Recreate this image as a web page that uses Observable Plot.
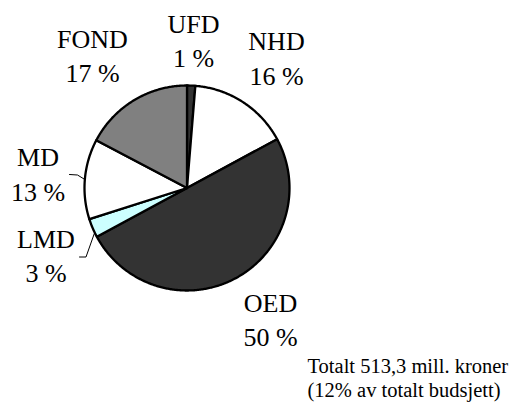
<!DOCTYPE html>
<html>
<head>
<meta charset="utf-8">
<script src="https://cdn.jsdelivr.net/npm/d3@7"></script>
<script src="https://cdn.jsdelivr.net/npm/@observablehq/plot@0.6"></script>
<style>
  html, body { margin: 0; padding: 0; background: #fff; }
  #chart { width: 520px; height: 403px; }
</style>
</head>
<body>
<div id="chart"></div>
<script>
// ---- data ----
const categories = ["UFD", "NHD", "OED", "LMD", "MD", "FOND"];
const values = [1.3, 15.8, 50.0, 3.0, 12.6, 17.3];
const colors = ["#333333", "#ffffff", "#333333", "#ccffff", "#ffffff", "#808080"];
const captionLines = ["Totalt 513,3 mill. kroner", "(12% av totalt budsjett)"];

// ---- layout ----
const W = 520, H = 403;
const cx = 186.5, cy = 187.5, R = 102.5;
const labelLayout = {
  UFD:  {x: 193,  y: 66.7},
  NHD:  {x: 276,  y: 84},
  OED:  {x: 270,  y: 345.7},
  LMD:  {x: 45.5, y: 281.7},
  MD:   {x: 37.5, y: 200},
  FOND: {x: 92,   y: 81.7}
};
const leaderLayout = {
  MD:  {pts: [[69, 174], [77, 174.5]], at: 0.5},
  LMD: {pts: [[79, 256.5], [85.5, 256.5]], at: 0.2}
};

const pie = d3.pie().sort(null).value(d => d.value)(
  categories.map((name, i) => ({name, value: values[i], color: colors[i]}))
);

function polar(a, r) { return {x: cx + r * Math.sin(a), y: cy - r * Math.cos(a)}; }

const sliceMarks = pie.map(s => {
  const pts = [{x: cx, y: cy}];
  const n = Math.max(4, Math.ceil((s.endAngle - s.startAngle) / 0.01));
  for (let k = 0; k <= n; k++) pts.push(polar(s.startAngle + (s.endAngle - s.startAngle) * k / n, R));
  pts.push({x: cx, y: cy});
  return Plot.line(pts, {x: "x", y: "y", fill: s.data.color, stroke: "black", strokeWidth: 2.3, strokeLinejoin: "round", curve: "linear"});
});

const leaderMarks = pie.filter(s => leaderLayout[s.data.name]).map(s => {
  const L = leaderLayout[s.data.name];
  const a = s.startAngle + (s.endAngle - s.startAngle) * L.at;
  const pts = L.pts.map(([x, y]) => ({x, y}));
  pts.push(polar(a, R + 1));
  return Plot.line(pts, {x: "x", y: "y", stroke: "black", strokeWidth: 1, curve: "linear"});
});

const labels = pie.map(s => ({
  text: s.data.name + "\n" + Math.round(s.data.value) + " %",
  x: labelLayout[s.data.name].x,
  y: labelLayout[s.data.name].y
}));

const chart = Plot.plot({
  width: W, height: H,
  margin: 0,
  x: {domain: [0, W], range: [0, W], axis: null},
  y: {domain: [0, H], range: [0, H], axis: null},
  style: "font-family: Times New Roman;",
  marks: [
    ...sliceMarks,
    ...leaderMarks,
    Plot.text(labels, {x: "x", y: "y", text: "text", fontSize: 26, lineHeight: 1.31, lineAnchor: "bottom", textAnchor: "middle", fill: "black", fontFamily: "Times New Roman"}),
    Plot.text([captionLines.join("\n")], {x: () => 307, y: () => 396, text: d => d, fontSize: 20.5, lineHeight: 1.13, lineAnchor: "bottom", textAnchor: "start", fill: "black", fontFamily: "Times New Roman"})
  ]
});
document.getElementById("chart").appendChild(chart);
</script>
</body>
</html>
